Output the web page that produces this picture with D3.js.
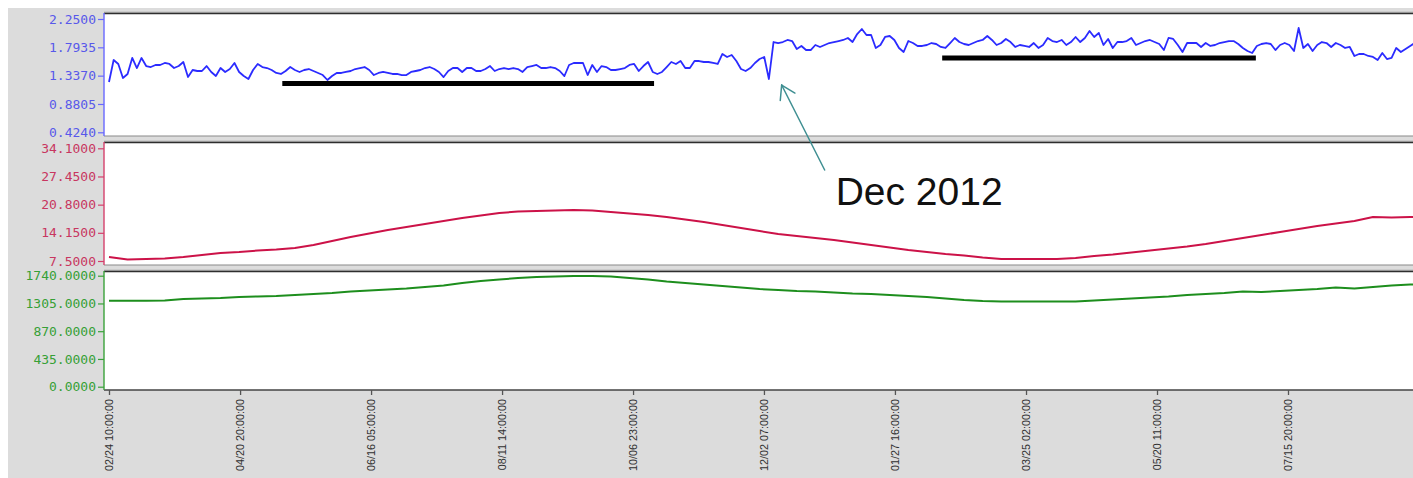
<!DOCTYPE html>
<html>
<head>
<meta charset="utf-8">
<script src="https://cdn.jsdelivr.net/npm/d3@7"></script>
<style>
  html, body { margin: 0; padding: 0; background: #ffffff; }
  svg { display: block; }
</style>
</head>
<body>
<svg id="chart" width="1413" height="478"></svg>
<script>
// ---- data ---------------------------------------------------------------
const tickLabels = ["02/24 10:00:00", "04/20 20:00:00", "06/16 05:00:00", "08/11 14:00:00",
  "10/06 23:00:00", "12/02 07:00:00", "01/27 16:00:00", "03/25 02:00:00",
  "05/20 11:00:00", "07/15 20:00:00"];
const tickDates = ["2012-02-24 10:00", "2012-04-20 20:00", "2012-06-16 05:00", "2012-08-11 14:00",
  "2012-10-06 23:00", "2012-12-02 07:00", "2013-01-27 16:00", "2013-03-25 02:00",
  "2013-05-20 11:00", "2013-07-15 20:00"];

const seriesStart = "2012-02-24 10:00";

// ratio series, one reading every 2 days
const ratioStepDays = 2;
const ratioValues = [
  1.235,1.589,1.525,1.299,1.364,1.622,1.460,1.622,1.492,1.476,
  1.509,1.509,1.541,1.525,1.460,1.492,1.557,1.315,1.428,1.412,
  1.412,1.492,1.396,1.331,1.460,1.396,1.444,1.541,1.396,1.331,
  1.283,1.428,1.525,1.476,1.460,1.428,1.380,1.364,1.412,1.476,
  1.428,1.396,1.428,1.444,1.412,1.380,1.347,1.267,1.331,1.380,
  1.380,1.396,1.412,1.444,1.460,1.476,1.428,1.347,1.380,1.396,
  1.380,1.364,1.364,1.347,1.347,1.396,1.412,1.428,1.460,1.476,
  1.444,1.396,1.315,1.412,1.460,1.460,1.396,1.460,1.460,1.412,
  1.412,1.444,1.492,1.412,1.444,1.460,1.444,1.460,1.444,1.396,
  1.476,1.492,1.509,1.460,1.460,1.476,1.460,1.412,1.331,1.509,
  1.541,1.541,1.541,1.347,1.509,1.396,1.492,1.476,1.428,1.428,
  1.444,1.460,1.509,1.525,1.412,1.492,1.557,1.396,1.364,1.396,
  1.476,1.557,1.525,1.573,1.460,1.460,1.573,1.573,1.557,1.557,
  1.541,1.525,1.686,1.638,1.670,1.573,1.444,1.412,1.460,1.541,
  1.605,1.638,1.283,1.879,1.863,1.879,1.912,1.895,1.766,1.815,
  1.750,1.750,1.831,1.799,1.831,1.863,1.879,1.895,1.912,1.944,
  1.879,2.008,2.089,1.992,1.992,1.783,1.831,1.960,1.976,1.912,
  1.783,1.718,1.895,1.863,1.815,1.815,1.831,1.863,1.847,1.799,
  1.783,1.863,1.944,1.879,1.847,1.831,1.863,1.895,1.912,1.976,
  1.912,1.831,1.863,1.928,1.879,1.799,1.831,1.815,1.799,1.863,
  1.783,1.831,1.944,1.895,1.879,1.912,1.831,1.879,1.960,1.879,
  1.944,2.057,1.960,2.025,1.831,1.928,1.783,1.879,1.879,1.895,
  1.944,1.831,1.863,1.895,1.912,1.879,1.847,1.750,1.944,1.928,
  1.831,1.718,1.863,1.863,1.863,1.799,1.863,1.815,1.831,1.863,
  1.879,1.895,1.895,1.847,1.783,1.734,1.702,1.815,1.847,1.863,
  1.847,1.750,1.831,1.863,1.831,1.734,2.105,1.783,1.847,1.734,
  1.831,1.879,1.863,1.799,1.863,1.831,1.783,1.799,1.654,1.686,
  1.686,1.654,1.638,1.589,1.702,1.605,1.622,1.783,1.718,1.766,
  1.815,1.863
];

// temperature-like series, one reading every 8 days
const slowStepDays = 8;
const redValues = [
  8.44,7.85,7.97,8.09,8.44,8.92,9.39,9.62,9.98,10.21,
  10.57,11.28,12.22,13.16,13.99,14.82,15.52,16.23,16.94,17.65,
  18.24,18.83,19.18,19.30,19.42,19.54,19.42,19.06,18.71,18.36,
  17.88,17.29,16.70,16.00,15.29,14.58,13.87,13.40,12.93,12.46,
  11.87,11.28,10.69,10.10,9.62,9.15,8.80,8.33,7.97,7.97,
  7.97,7.97,8.21,8.68,9.03,9.51,9.98,10.45,10.92,11.51,
  12.22,12.93,13.64,14.34,15.05,15.76,16.35,16.94,17.88,17.77,
  17.88,18.00
];

// third series, one reading every 8 days
const greenValues = [
  1348,1348,1348,1351,1375,1383,1390,1406,1414,1422,
  1437,1453,1469,1492,1508,1524,1539,1563,1586,1626,
  1657,1680,1704,1720,1727,1735,1735,1727,1704,1680,
  1649,1626,1602,1579,1555,1531,1516,1500,1492,1477,
  1461,1453,1437,1422,1406,1383,1359,1343,1336,1336,
  1336,1336,1336,1351,1367,1383,1398,1414,1437,1453,
  1469,1492,1485,1500,1516,1532,1555,1539,1563,1586,
  1602,1610
];

const ratioTicks = [0.4240, 0.8805, 1.3370, 1.7935, 2.2500];
const redTicks   = [7.5, 14.15, 20.8, 27.45, 34.1];
const greenTicks = [0, 435, 870, 1305, 1740];

// reference periods marked on the ratio trace
const periodStarts = ["2012-05-09 00:00", "2013-02-17 00:00"];
const periodEnds   = ["2012-10-16 00:00", "2013-07-02 00:00"];
const periodLevels = [1.21, 1.622];

// annotation
const noteText  = "Dec 2012";
const noteDate  = "2012-12-09 22:00";
const noteValue = 1.186;

// ---- drawing ------------------------------------------------------------
const parse = d3.timeParse("%Y-%m-%d %H:%M");
const DAY = 86400000;
const t0 = parse(seriesStart);
const ticksT = tickDates.map(parse);

const W = 1413, H = 478;
const svg = d3.select("#chart");

// window background
svg.append("rect").attr("x", 8).attr("y", 8).attr("width", W - 8).attr("height", H - 8)
  .attr("fill", "#dcdcdc");

const x = d3.scaleTime()
  .domain([ticksT[0], ticksT[ticksT.length - 1]])
  .range([109, 1288]);

const plotLeft = 104, plotRight = W;

const panels = [
  { top: 13,  bottom: 136, rng: [132.3, 19],  ticks: ratioTicks,
    values: ratioValues, step: ratioStepDays,
    line: "#2b2bff", lw: 1.8, axis: "#6868ff", text: "#5858ea" },
  { top: 142, bottom: 265, rng: [261, 148.3], ticks: redTicks,
    values: redValues, step: slowStepDays,
    line: "#cc1248", lw: 2, axis: "#d4406c", text: "#c83660" },
  { top: 271, bottom: 390, rng: [386.7, 275.7], ticks: greenTicks,
    values: greenValues, step: slowStepDays,
    line: "#1d8e1d", lw: 2, axis: "#3aa23a", text: "#36a036" }
];

panels.forEach((p, i) => {
  p.y = d3.scaleLinear().domain([p.ticks[0], p.ticks[p.ticks.length - 1]]).range(p.rng);

  // plot background
  svg.append("rect").attr("x", plotLeft).attr("y", p.top)
    .attr("width", plotRight - plotLeft).attr("height", p.bottom - p.top)
    .attr("fill", "#ffffff");

  svg.append("clipPath").attr("id", "clip" + i)
    .append("rect").attr("x", plotLeft + 1).attr("y", p.top + 1)
    .attr("width", plotRight - plotLeft).attr("height", p.bottom - p.top - 2);

  const pts = p.values.map((v, k) => ({ t: new Date(t0.getTime() + k * p.step * DAY), v }));
  const line = d3.line().x(d => x(d.t)).y(d => p.y(d.v));

  svg.append("path").datum(pts)
    .attr("clip-path", `url(#clip${i})`)
    .attr("fill", "none").attr("stroke", p.line).attr("stroke-width", p.lw)
    .attr("stroke-linejoin", "round")
    .attr("d", line);

  // frame lines
  svg.append("line").attr("x1", plotLeft).attr("x2", plotRight)
    .attr("y1", p.top - 0.8).attr("y2", p.top - 0.8)
    .attr("stroke", "#a8a8a8").attr("stroke-width", 1);
  svg.append("line").attr("x1", plotLeft).attr("x2", plotRight)
    .attr("y1", p.top + 0.5).attr("y2", p.top + 0.5)
    .attr("stroke", "#2e2e2e").attr("stroke-width", 1.3);
  svg.append("line").attr("x1", plotLeft).attr("x2", plotRight)
    .attr("y1", p.bottom).attr("y2", p.bottom)
    .attr("stroke", i === 2 ? "#444444" : "#8a8a8a").attr("stroke-width", i === 2 ? 1.6 : 1.2);

  // y axis
  const ax = svg.append("g").attr("transform", `translate(${plotLeft},0)`)
    .call(d3.axisLeft(p.y).tickValues(p.ticks).tickSize(6).tickSizeOuter(0)
      .tickPadding(2).tickFormat(d3.format(".4f")));
  ax.select(".domain").remove();
  ax.selectAll(".tick line").attr("stroke", p.axis).attr("stroke-width", 1.2);
  ax.selectAll(".tick text").attr("fill", p.text)
    .style("font-family", "'DejaVu Sans Mono', 'Liberation Mono', monospace")
    .style("font-size", "13px");
  svg.append("line").attr("x1", plotLeft).attr("x2", plotLeft)
    .attr("y1", p.top).attr("y2", p.bottom)
    .attr("stroke", p.axis).attr("stroke-width", 1.4);
});

// marked periods on the ratio panel
const yR = panels[0].y;
periodStarts.forEach((s, i) => {
  svg.append("line")
    .attr("x1", x(parse(s))).attr("x2", x(parse(periodEnds[i])))
    .attr("y1", yR(periodLevels[i])).attr("y2", yR(periodLevels[i]))
    .attr("stroke", "#000000").attr("stroke-width", 5);
});

// time axis
const xa = svg.append("g").attr("transform", "translate(0,390)")
  .call(d3.axisBottom(x).tickValues(ticksT).tickSize(5).tickSizeOuter(0)
    .tickFormat((d, i) => tickLabels[i]));
xa.select(".domain").remove();
xa.selectAll(".tick line").attr("stroke", "#555555").attr("stroke-width", 1.3);
xa.selectAll(".tick text")
  .attr("transform", "rotate(-90)")
  .attr("x", -9).attr("y", 0).attr("dy", "0.35em")
  .style("text-anchor", "end")
  .attr("fill", "#303030")
  .style("font-family", "'Liberation Sans', Arial, sans-serif")
  .style("font-size", "10.8px");

// annotation arrow and label
const tipX = x(parse(noteDate)), tipY = yR(noteValue);
const tailX = tipX + 43, tailY = tipY + 85;
const ang = Math.atan2(tailY - tipY, tailX - tipX);
const headLen = 15.5, spread = 32 * Math.PI / 180;
const arrow = svg.append("g").attr("stroke", "#3f8f92").attr("stroke-width", 1.5)
  .attr("fill", "none").attr("stroke-linecap", "round");
arrow.append("line").attr("x1", tailX).attr("y1", tailY).attr("x2", tipX).attr("y2", tipY);
[-1, 1].forEach(s => {
  arrow.append("line").attr("x1", tipX).attr("y1", tipY)
    .attr("x2", tipX + headLen * Math.cos(ang + s * spread))
    .attr("y2", tipY + headLen * Math.sin(ang + s * spread));
});
svg.append("text").attr("x", tailX + 11).attr("y", tailY + 35)
  .attr("fill", "#111111")
  .style("font-family", "'Liberation Sans', Arial, sans-serif")
  .style("font-size", "39px")
  .text(noteText);
</script>
</body>
</html>
